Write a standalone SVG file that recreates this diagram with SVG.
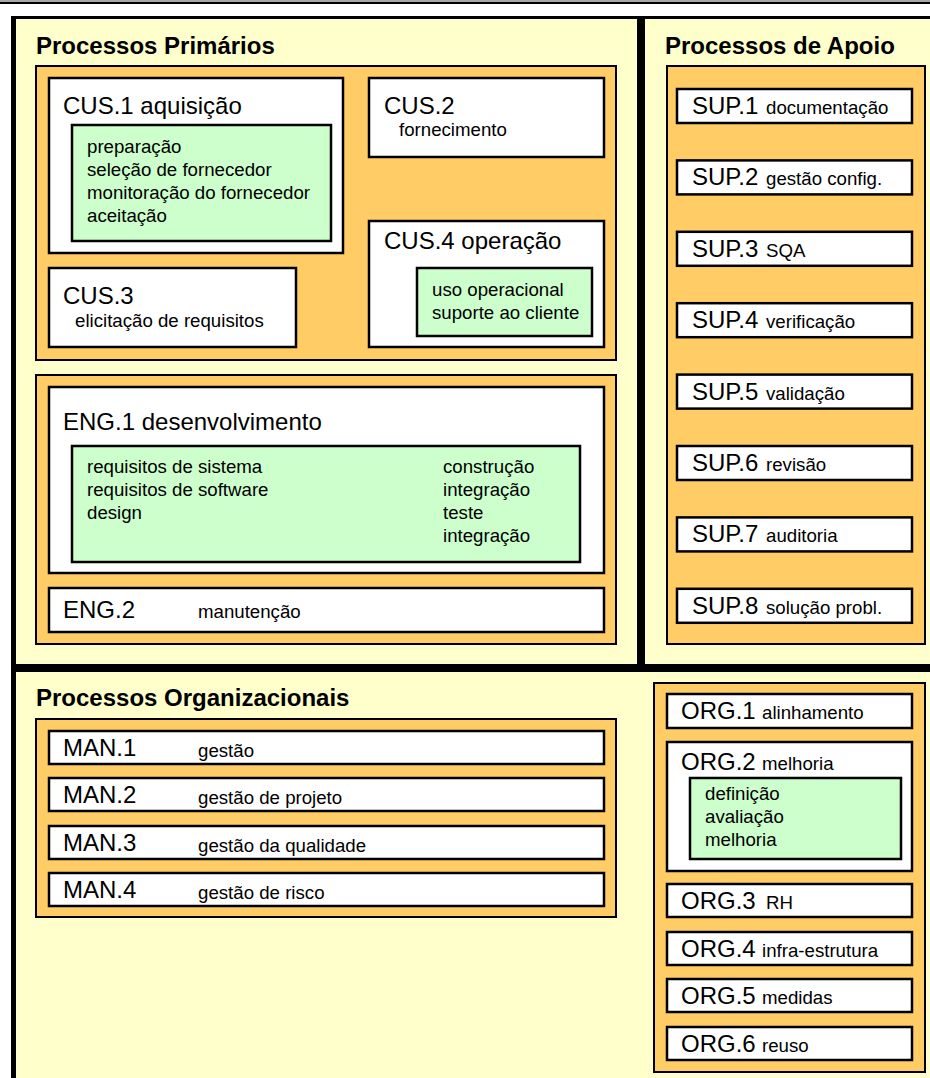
<svg xmlns="http://www.w3.org/2000/svg" width="930" height="1078" viewBox="0 0 930 1078">
  <style>
    text { font-family: "Liberation Sans", Arial, sans-serif; fill: #000; }
    .title { font-size: 24px; font-weight: bold; }
    .lbl { font-size: 24px; }
    .sm { font-size: 18.67px; }
    .panel { fill: #FFFFCC; }
    .group { fill: #FFCC66; stroke: #000; stroke-width: 2; }
    .proc { fill: #FFFFFF; stroke: #000; stroke-width: 2.5; }
    .act { fill: #CCFFCC; stroke: #000; stroke-width: 2.5; }
  </style>

  <!-- page background and top rule -->
  <rect x="0" y="0" width="930" height="1078" fill="#FFFFFF"/>
  <rect x="0" y="0" width="930" height="2" fill="#A8A8A8"/>
  <rect x="0" y="2" width="930" height="2" fill="#000"/>

  <!-- outer frame and panel backgrounds -->
  <rect class="panel" x="11" y="16" width="919" height="1062"/>
  <rect x="11" y="16" width="5" height="1062" fill="#000"/>
  <rect x="11" y="16" width="919" height="3" fill="#000"/>
  <rect x="637" y="16" width="8" height="656" fill="#000"/>
  <rect x="11" y="664" width="919" height="8" fill="#000"/>

  <!-- panel titles -->
  <text class="title" x="36" y="54">Processos Primários</text>
  <text class="title" x="665" y="54">Processos de Apoio</text>
  <text class="title" x="36" y="706">Processos Organizacionais</text>

  <!-- connectors: none in this chart -->
  <g id="connectors"/>

  <!-- Primary processes: customer-supplier -->
  <g id="grp-cus">
    <rect class="group" x="36" y="66" width="580" height="294"/>
  </g>
  <g id="cus1">
    <rect class="proc" x="49" y="78" width="294" height="175"/>
    <text class="lbl" x="63" y="114">CUS.1 aquisição</text>
    <rect class="act" x="72" y="125" width="259" height="116"/>
    <text class="sm" x="87" y="153">preparação</text>
    <text class="sm" x="87" y="176">seleção de fornecedor</text>
    <text class="sm" x="87" y="199">monitoração do fornecedor</text>
    <text class="sm" x="87" y="222">aceitação</text>
  </g>
  <g id="cus2">
    <rect class="proc" x="369" y="78" width="235" height="79"/>
    <text class="lbl" x="384" y="114">CUS.2</text>
    <text class="sm" x="399" y="136">fornecimento</text>
  </g>
  <g id="cus4">
    <rect class="proc" x="369" y="221" width="235" height="126"/>
    <text class="lbl" x="384" y="249">CUS.4 operação</text>
    <rect class="act" x="417" y="268" width="175" height="68"/>
    <text class="sm" x="432" y="296">uso operacional</text>
    <text class="sm" x="432" y="319">suporte ao cliente</text>
  </g>
  <g id="cus3">
    <rect class="proc" x="49" y="268" width="247" height="79"/>
    <text class="lbl" x="63" y="304">CUS.3</text>
    <text class="sm" x="75" y="327">elicitação de requisitos</text>
  </g>

  <!-- Primary processes: engineering -->
  <g id="grp-eng">
    <rect class="group" x="36" y="375" width="580" height="269"/>
  </g>
  <g id="eng1">
    <rect class="proc" x="49" y="387" width="555" height="186"/>
    <text class="lbl" x="63" y="430">ENG.1 desenvolvimento</text>
    <rect class="act" x="72" y="446" width="508" height="116"/>
    <text class="sm" x="87" y="473">requisitos de sistema</text>
    <text class="sm" x="87" y="496">requisitos de software</text>
    <text class="sm" x="87" y="519">design</text>
    <text class="sm" x="443" y="473">construção</text>
    <text class="sm" x="443" y="496">integração</text>
    <text class="sm" x="443" y="519">teste</text>
    <text class="sm" x="443" y="542">integração</text>
  </g>
  <g id="eng2">
    <rect class="proc" x="49" y="588" width="555" height="44"/>
    <text class="lbl" x="63" y="618">ENG.2</text>
    <text class="sm" x="198" y="618">manutenção</text>
  </g>

  <!-- Support processes -->
  <g id="grp-sup">
    <rect class="group" x="667" y="66" width="258" height="578"/>
  </g>
  <g id="sup1">
    <rect class="proc" x="677" y="89" width="235" height="34"/>
    <text class="lbl" x="692" y="114">SUP.1</text>
    <text class="sm" x="766" y="114">documentação</text>
  </g>
  <g id="sup2">
    <rect class="proc" x="677" y="160.4" width="235" height="34"/>
    <text class="lbl" x="692" y="185.4">SUP.2</text>
    <text class="sm" x="766" y="185.4">gestão config.</text>
  </g>
  <g id="sup3">
    <rect class="proc" x="677" y="231.8" width="235" height="34"/>
    <text class="lbl" x="692" y="256.8">SUP.3</text>
    <text class="sm" x="766" y="256.8">SQA</text>
  </g>
  <g id="sup4">
    <rect class="proc" x="677" y="303.2" width="235" height="34"/>
    <text class="lbl" x="692" y="328.2">SUP.4</text>
    <text class="sm" x="766" y="328.2">verificação</text>
  </g>
  <g id="sup5">
    <rect class="proc" x="677" y="374.6" width="235" height="34"/>
    <text class="lbl" x="692" y="399.6">SUP.5</text>
    <text class="sm" x="766" y="399.6">validação</text>
  </g>
  <g id="sup6">
    <rect class="proc" x="677" y="446" width="235" height="34"/>
    <text class="lbl" x="692" y="471">SUP.6</text>
    <text class="sm" x="766" y="471">revisão</text>
  </g>
  <g id="sup7">
    <rect class="proc" x="677" y="517.4" width="235" height="34"/>
    <text class="lbl" x="692" y="542.4">SUP.7</text>
    <text class="sm" x="766" y="542.4">auditoria</text>
  </g>
  <g id="sup8">
    <rect class="proc" x="677" y="588.8" width="235" height="34"/>
    <text class="lbl" x="692" y="613.8">SUP.8</text>
    <text class="sm" x="766" y="613.8">solução probl.</text>
  </g>

  <!-- Organizational processes: management -->
  <g id="grp-man">
    <rect class="group" x="36" y="719" width="580" height="198"/>
  </g>
  <g id="man1">
    <rect class="proc" x="49" y="731" width="555" height="33"/>
    <text class="lbl" x="63" y="756">MAN.1</text>
    <text class="sm" x="198" y="757">gestão</text>
  </g>
  <g id="man2">
    <rect class="proc" x="49" y="778" width="555" height="33"/>
    <text class="lbl" x="63" y="803">MAN.2</text>
    <text class="sm" x="198" y="804">gestão de projeto</text>
  </g>
  <g id="man3">
    <rect class="proc" x="49" y="826" width="555" height="33"/>
    <text class="lbl" x="63" y="851">MAN.3</text>
    <text class="sm" x="198" y="852">gestão da qualidade</text>
  </g>
  <g id="man4">
    <rect class="proc" x="49" y="873" width="555" height="33"/>
    <text class="lbl" x="63" y="898">MAN.4</text>
    <text class="sm" x="198" y="899">gestão de risco</text>
  </g>

  <!-- Organizational processes: organization -->
  <g id="grp-org">
    <rect class="group" x="654" y="683" width="271" height="389"/>
  </g>
  <g id="org1">
    <rect class="proc" x="667" y="694" width="245" height="34"/>
    <text class="lbl" x="681" y="719">ORG.1</text>
    <text class="sm" x="762" y="719">alinhamento</text>
  </g>
  <g id="org2">
    <rect class="proc" x="667" y="742" width="245" height="129"/>
    <text class="lbl" x="681" y="770">ORG.2</text>
    <text class="sm" x="762" y="770">melhoria</text>
    <rect class="act" x="690" y="778" width="211" height="81"/>
    <text class="sm" x="705" y="800">definição</text>
    <text class="sm" x="705" y="823">avaliação</text>
    <text class="sm" x="705" y="846">melhoria</text>
  </g>
  <g id="org3">
    <rect class="proc" x="667" y="884" width="245" height="33"/>
    <text class="lbl" x="681" y="909">ORG.3</text>
    <text class="sm" x="766" y="909">RH</text>
  </g>
  <g id="org4">
    <rect class="proc" x="667" y="932" width="245" height="33"/>
    <text class="lbl" x="681" y="957">ORG.4</text>
    <text class="sm" x="762" y="957">infra-estrutura</text>
  </g>
  <g id="org5">
    <rect class="proc" x="667" y="979" width="245" height="33"/>
    <text class="lbl" x="681" y="1004">ORG.5</text>
    <text class="sm" x="762" y="1004">medidas</text>
  </g>
  <g id="org6">
    <rect class="proc" x="667" y="1027" width="245" height="33"/>
    <text class="lbl" x="681" y="1052">ORG.6</text>
    <text class="sm" x="762" y="1052">reuso</text>
  </g>
</svg>
